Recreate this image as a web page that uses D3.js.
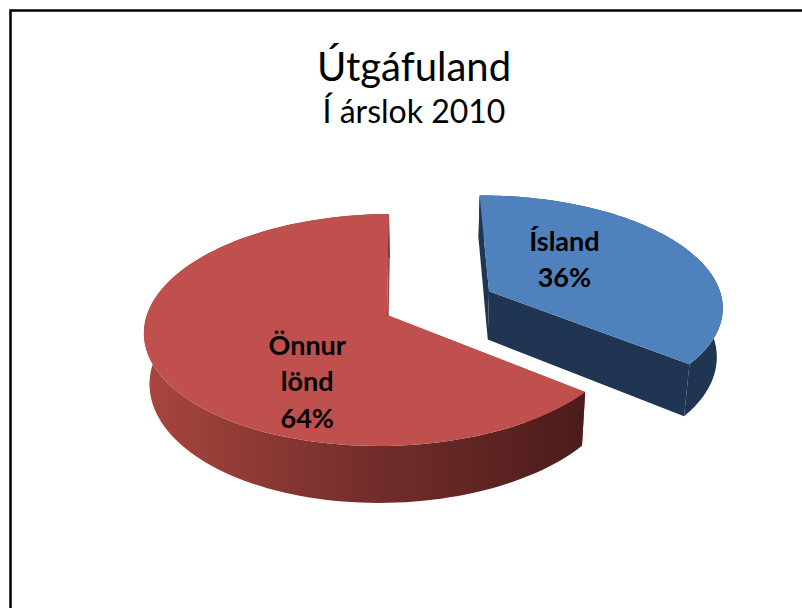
<!DOCTYPE html>
<html>
<head>
<meta charset="utf-8">
<script src="https://cdn.jsdelivr.net/npm/d3@7"></script>
<style>
    body { margin: 0; background: #fff; }
    svg { display: block; }
</style>
</head>
<body>
<div id="chart"></div>
<script>
// data
const categories = ['Ísland', 'Önnur lönd']
const values = [36, 64]
const titleText = 'Útgáfuland'
const subtitleText = 'Í árslok 2010'

// styles
const topColors = ['#4f81bd', '#c0504d']
const sideColors = ['#1f3552', 'url(#redSide)']
const cutColors = ['#1f3552', '#9e413e']
const explode = [0.483, 0]

function draw() {
    const dimensions = { width: 802, height: 608 }

    const svg = d3.select('#chart')
        .append('svg')
        .attr('width', dimensions.width)
        .attr('height', dimensions.height)

    // frame round the chart area (right and bottom edges fall outside the window)
    svg.append('rect')
        .attr('x', 10.5)
        .attr('y', 10.5)
        .attr('width', 820)
        .attr('height', 640)
        .attr('fill', '#fff')
        .attr('stroke', '#000')
        .attr('stroke-width', 2.5)

    svg.append('text')
        .attr('x', 414)
        .attr('y', 81)
        .attr('text-anchor', 'middle')
        .style('font-family', 'Lato, "Open Sans", sans-serif')
        .style('font-size', '40px')
        .text(titleText)

    svg.append('text')
        .attr('x', 414)
        .attr('y', 123)
        .attr('text-anchor', 'middle')
        .style('font-family', 'Lato, "Open Sans", sans-serif')
        .style('font-size', '32px')
        .text(subtitleText)

    // perspective view of a unit disk: X to the right, Z away from the viewer,
    // t = 0 on the top face and 1 on the bottom face
    const view = { ax: 241.7, az: 52.2, cx: 387, bz: -73.4, cy: 315, k: 0.129, m: 0.0064, depth: 49.6, vx: 425, conv: 0.02 }
    function project(X, Z, t) {
        const w = 1 + view.k * Z + view.m * X
        let x = (view.ax * X + view.az * Z + view.cx) / w
        const y = (view.bz * Z + view.cy + view.depth * t) / w
        x += (view.vx - x) * view.conv * t
        return [x, y]
    }

    const pie = d3.pie().sort(null).startAngle(0).endAngle(2 * Math.PI)
    const arcs = pie(values)

    // radius along the slice, used for rim points
    const radius = d3.scaleLinear().domain([0, 1]).range([0, 1])

    arcs.forEach((d, i) => {
        const mid = (d.startAngle + d.endAngle) / 2
        d.ox = explode[i] * Math.sin(mid)
        d.oz = explode[i] * Math.cos(mid)
        d.mid = mid
    })

    const pt = (d, a, r, t) => project(d.ox + radius(r) * Math.sin(a), d.oz + radius(r) * Math.cos(a), t)
    const rim = (d, t) => d3.range(0, 1.0001, 1 / 120)
        .map(f => pt(d, d.startAngle + f * (d.endAngle - d.startAngle), 1, t))

    const line = d3.line().curve(d3.curveLinearClosed)

    // gradient for the red outer side
    const left = project(-1.008, -0.13, 0)[0]
    const right = pt(arcs[1], arcs[1].startAngle, 1, 0)[0]
    const grad = svg.append('defs').append('linearGradient')
        .attr('id', 'redSide')
        .attr('gradientUnits', 'userSpaceOnUse')
        .attr('x1', left).attr('x2', right)
        .attr('y1', 0).attr('y2', 0)
    grad.append('stop').attr('offset', '0%').attr('stop-color', '#a9463f')
    grad.append('stop').attr('offset', '45%').attr('stop-color', '#7a302d')
    grad.append('stop').attr('offset', '100%').attr('stop-color', '#4b1c1b')

    const g = svg.append('g')

    arcs.forEach((d, i) => {
        const gs = g.append('g')
        // cut faces
        ;[d.startAngle, d.endAngle].forEach(a => {
            gs.append('path')
                .attr('d', line([pt(d, a, 0, 0), pt(d, a, 1, 0), pt(d, a, 1, 1), pt(d, a, 0, 1)]))
                .attr('fill', cutColors[i])
        })
        // outer side
        gs.append('path')
            .attr('d', line(rim(d, 0).concat(rim(d, 1).reverse())))
            .attr('fill', sideColors[i])
        // top face
        gs.append('path')
            .attr('d', line([pt(d, 0, 0, 0)].concat(rim(d, 0))))
            .attr('fill', topColors[i])
    })

    // data labels
    const nudge = [[5, -16], [-2, 48]]
    arcs.forEach((d, i) => {
        const [x, y] = pt(d, d.mid, 0.35, 0)
        const lines = categories[i].split(' ').concat([d3.format('.0%')(values[i] / d3.sum(values))])
        const lh = 36.5
        const txt = g.append('text')
            .attr('text-anchor', 'middle')
            .style('font-family', 'Lato, "Open Sans", sans-serif')
            .style('font-size', '27px')
            .style('font-weight', 'bold')
        lines.forEach((s, j) => {
            txt.append('tspan')
                .attr('x', x + nudge[i][0])
                .attr('y', y + nudge[i][1] + (j - (lines.length - 1) / 2) * lh + 10)
                .text(s)
        })
    })
}

draw()
</script>
</body>
</html>
